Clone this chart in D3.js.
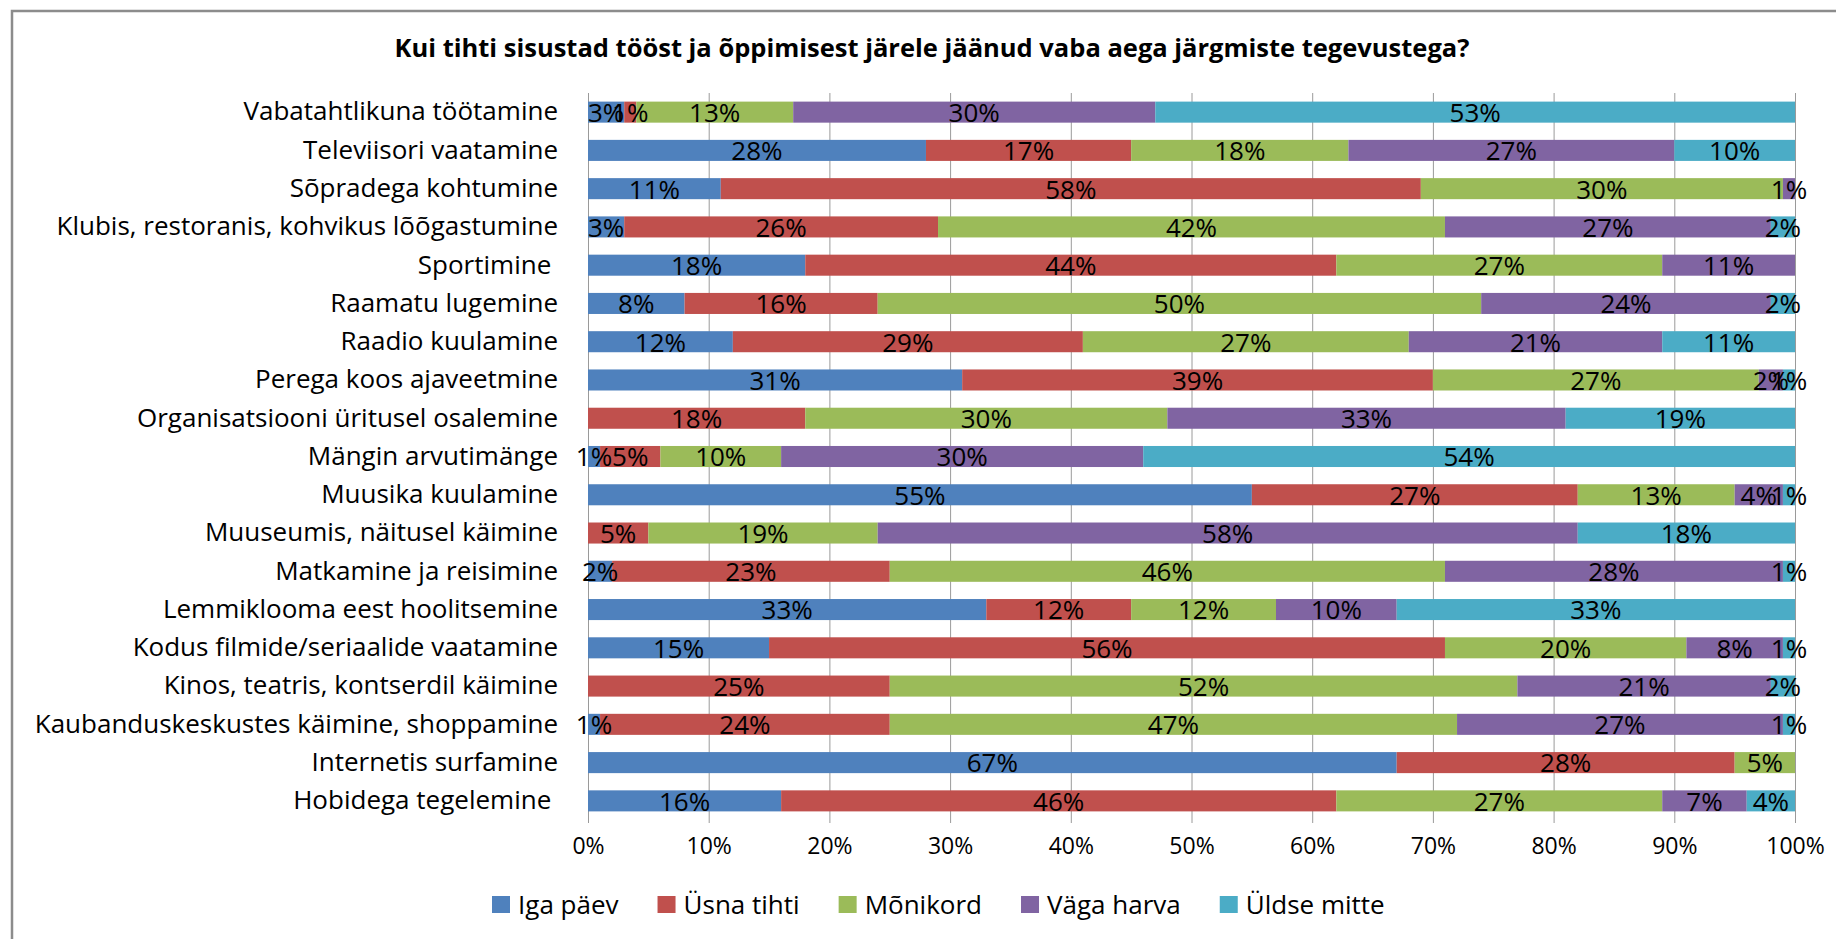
<!DOCTYPE html>
<html>
<head>
<meta charset="utf-8">
<style>
  body { margin: 0; background: #fff; }
  svg text { font-family: "Open Sans", Lato, sans-serif; fill: #000; white-space: pre; }
</style>
</head>
<body>
<svg id="chart" width="1836" height="939"></svg>
<script src="https://d3js.org/d3.v7.min.js"></script>
<script>
// categories top to bottom, as in the chart
const categories = [
    "Vabatahtlikuna töötamine",
    "Televiisori vaatamine",
    "Sõpradega kohtumine",
    "Klubis, restoranis, kohvikus lõõgastumine",
    "Sportimine ",
    "Raamatu lugemine",
    "Raadio kuulamine",
    "Perega koos ajaveetmine",
    "Organisatsiooni üritusel osalemine",
    "Mängin arvutimänge",
    "Muusika kuulamine",
    "Muuseumis, näitusel käimine",
    "Matkamine ja reisimine",
    "Lemmiklooma eest hoolitsemine",
    "Kodus filmide/seriaalide vaatamine",
    "Kinos, teatris, kontserdil käimine",
    "Kaubanduskeskustes käimine, shoppamine",
    "Internetis surfamine",
    "Hobidega tegelemine "
]
const seriesNames = ["Iga päev", "Üsna tihti", "Mõnikord", "Väga harva", "Üldse mitte"]
const igaPaev    = [3, 28, 11, 3, 18, 8, 12, 31, 0, 1, 55, 0, 2, 33, 15, 0, 1, 67, 16]
const usnaTihti  = [1, 17, 58, 26, 44, 16, 29, 39, 18, 5, 27, 5, 23, 12, 56, 25, 24, 28, 46]
const monikord   = [13, 18, 30, 42, 27, 50, 27, 27, 30, 10, 13, 19, 46, 12, 20, 52, 47, 5, 27]
const vagaHarva  = [30, 27, 1, 27, 11, 24, 21, 2, 33, 30, 4, 58, 28, 10, 8, 21, 27, 0, 7]
const uldseMitte = [53, 10, 0, 2, 0, 2, 11, 1, 19, 54, 1, 18, 1, 33, 1, 2, 1, 0, 4]
const xTicks = [0, 10, 20, 30, 40, 50, 60, 70, 80, 90, 100]

const colors = ["#4F81BD", "#C0504D", "#9BBB59", "#8064A2", "#4BACC6"]
const title = "Kui tihti sisustad tööst ja õppimisest järele jäänud vaba aega järgmiste tegevustega?"

const rows = categories.map((c, i) => {
    const row = { cat: c }
    const vals = [igaPaev[i], usnaTihti[i], monikord[i], vagaHarva[i], uldseMitte[i]]
    seriesNames.forEach((s, j) => row[s] = vals[j])
    return row
})
const stacked = d3.stack().keys(seriesNames)(rows)

const svg = d3.select("#chart")
const plotLeft = 588, plotRight = 1795, plotTop = 93, plotBottom = 820

// chart frame
svg.append("rect")
    .attr("x", 12).attr("y", 11)
    .attr("width", 1840).attr("height", 960)
    .style("fill", "none")
    .style("stroke", "#8c8c8c")
    .style("stroke-width", "2.5px")

svg.append("text")
    .attr("x", 932).attr("y", 57)
    .attr("text-anchor", "middle")
    .style("font-size", "25.5px")
    .style("font-weight", "bold")
    .text(title)

const xScale = d3.scaleLinear().domain([0, 100]).range([plotLeft, plotRight])
const yScale = d3.scaleBand().domain(categories).range([plotTop, plotBottom])
    .paddingInner(0.45).paddingOuter(0.225)

const xAxis = d3.axisBottom(xScale)
    .tickValues(xTicks)
    .tickSize(-(plotBottom - plotTop + 3))
    .tickPadding(15)
    .tickFormat(d => d + "%")
svg.append("g")
    .attr("id", "xAxis")
    .attr("transform", `translate(0,${plotBottom + 3})`)
    .call(xAxis)
    .call(g => g.select(".domain").remove())
    .call(g => g.selectAll(".tick line").style("stroke", "#9a9a9a"))
    .call(g => g.selectAll(".tick text").style("font-size", "23px").style("font-family", "Open Sans"))

const yAxis = d3.axisLeft(yScale).tickSize(0).tickPadding(30)
svg.append("g")
    .attr("transform", `translate(${plotLeft},0)`)
    .call(yAxis)
    .call(g => g.select(".domain").remove())
    .call(g => g.selectAll(".tick text").style("font-size", "26px").style("font-family", "Open Sans"))

const layers = svg.selectAll("g.layer")
    .data(stacked)
    .enter()
    .append("g")
    .attr("class", "layer")
    .style("fill", (d, i) => colors[i])

layers.selectAll("rect")
    .data(d => d.map(p => ({ p: p, cat: p.data.cat })))
    .enter()
    .append("rect")
    .attr("x", d => xScale(d.p[0]))
    .attr("y", d => yScale(d.cat))
    .attr("width", d => xScale(d.p[1]) - xScale(d.p[0]))
    .attr("height", yScale.bandwidth())

// data labels, on top of all bars
const labels = svg.append("g")
stacked.forEach(layer => {
    layer.forEach(p => {
        const v = p[1] - p[0]
        if (v <= 0) return
        labels.append("text")
            .attr("x", xScale((p[0] + p[1]) / 2))
            .attr("y", yScale(p.data.cat) + yScale.bandwidth() / 2)
            .attr("dy", "0.38em")
            .attr("text-anchor", "middle")
            .style("font-size", "26px")
            .text(v + "%")
    })
})

// legend
let lx = 492
const legend = svg.append("g")
seriesNames.forEach((s, i) => {
    legend.append("rect")
        .attr("x", lx).attr("y", 896)
        .attr("width", 18).attr("height", 17)
        .style("fill", colors[i])
    const t = legend.append("text")
        .attr("x", lx + 26).attr("y", 905)
        .attr("dy", "0.36em")
        .style("font-size", "26px")
        .text(s)
    lx += 26 + t.node().getComputedTextLength() + 39
})
</script>
</body>
</html>
